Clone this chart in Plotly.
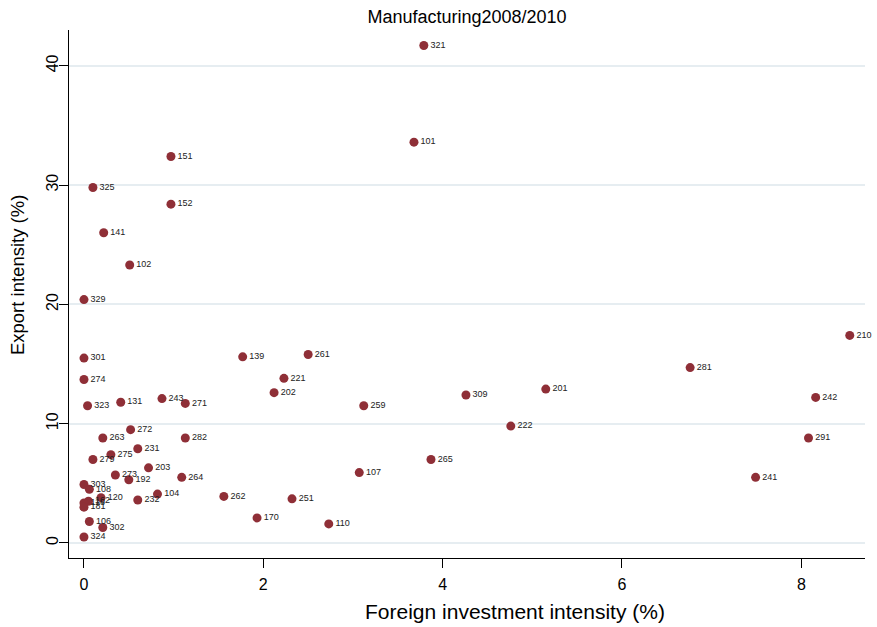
import plotly.graph_objects as go

# Industry codes with foreign investment intensity (%) and export intensity (%)
codes = ["321", "101", "151", "325", "152", "141", "102", "329", "210", "301",
         "139", "261", "281", "274", "221", "201", "202", "309", "242", "131",
         "243", "271", "323", "259", "222", "272", "263", "282", "291", "231",
         "275", "279", "265", "203", "107", "273", "241", "264", "192", "303",
         "108", "104", "262", "251", "232", "120", "162", "116", "181", "106",
         "302", "324", "170", "110"]
fdi = [3.79, 3.68, 0.97, 0.10, 0.97, 0.22, 0.51, 0.00, 8.54, 0.00,
       1.77, 2.50, 6.76, 0.00, 2.23, 5.15, 2.12, 4.26, 8.16, 0.41,
       0.87, 1.13, 0.04, 3.12, 4.76, 0.52, 0.21, 1.13, 8.08, 0.60,
       0.30, 0.10, 3.87, 0.72, 3.07, 0.35, 7.49, 1.09, 0.50, 0.00,
       0.06, 0.82, 1.56, 2.32, 0.60, 0.19, 0.05, 0.00, 0.00, 0.06,
       0.21, 0.00, 1.93, 2.73]
export = [41.7, 33.6, 32.4, 29.8, 28.4, 26.0, 23.3, 20.4, 17.4, 15.5,
          15.6, 15.8, 14.7, 13.7, 13.8, 12.9, 12.6, 12.4, 12.2, 11.8,
          12.1, 11.7, 11.5, 11.5, 9.8, 9.5, 8.8, 8.8, 8.8, 7.9,
          7.4, 7.0, 7.0, 6.3, 5.9, 5.7, 5.5, 5.5, 5.3, 4.9,
          4.5, 4.1, 3.9, 3.7, 3.6, 3.8, 3.5, 3.35, 3.0, 1.8,
          1.3, 0.5, 2.1, 1.6]

x_ticks = [0, 2, 4, 6, 8]
y_ticks = [0, 10, 20, 30, 40]

font_family = "Liberation Sans, Arial, sans-serif"
marker_color = "#8f2f37"

fig = go.Figure(
    go.Scatter(
        x=fdi,
        y=export,
        mode="markers+text",
        text=codes,
        textposition="middle right",
        textfont=dict(size=9, color="#222222", family=font_family),
        marker=dict(size=9, color=marker_color),
        hoverinfo="x+y+text",
        cliponaxis=False,
    )
)

fig.update_layout(
    width=877,
    height=627,
    margin=dict(l=69, r=12, t=30, b=69),
    paper_bgcolor="white",
    plot_bgcolor="white",
    showlegend=False,
    font=dict(family=font_family, color="black"),
    title=dict(
        text="Manufacturing2008/2010",
        x=0.5,
        xref="paper",
        y=1 - 17 / 627,
        yref="container",
        yanchor="middle",
        font=dict(size=18, color="black", family=font_family),
    ),
    annotations=[
        dict(
            text="Foreign investment intensity (%)",
            xref="paper", yref="paper",
            x=0.56, y=-0.102,
            xanchor="center", yanchor="middle",
            showarrow=False,
            font=dict(size=21, color="black", family=font_family),
        ),
        dict(
            text="Export intensity (%)",
            xref="paper", yref="paper",
            x=-0.064, y=0.536,
            xanchor="center", yanchor="middle",
            textangle=-90,
            showarrow=False,
            font=dict(size=18.5, color="black", family=font_family),
        ),
    ],
)

fig.update_xaxes(
    range=[-0.167, 8.71],
    tickvals=x_ticks,
    ticktext=[str(v) for v in x_ticks],
    ticks="outside",
    ticklen=9,
    tickcolor="black",
    tickfont=dict(size=16),
    ticklabelstandoff=3,
    showline=True,
    linecolor="black",
    linewidth=1,
    showgrid=False,
    zeroline=False,
)

fig.update_yaxes(
    range=[-1.26, 43.0],
    tickvals=y_ticks,
    ticktext=[str(v) for v in y_ticks],
    tickangle=-90,
    ticks="outside",
    ticklen=9,
    tickcolor="black",
    tickfont=dict(size=16),
    ticklabelstandoff=-5,
    showline=True,
    linecolor="black",
    linewidth=1,
    showgrid=True,
    gridcolor="#e6edf1",
    gridwidth=2,
    zeroline=False,
)

fig.write_html("out.html")
